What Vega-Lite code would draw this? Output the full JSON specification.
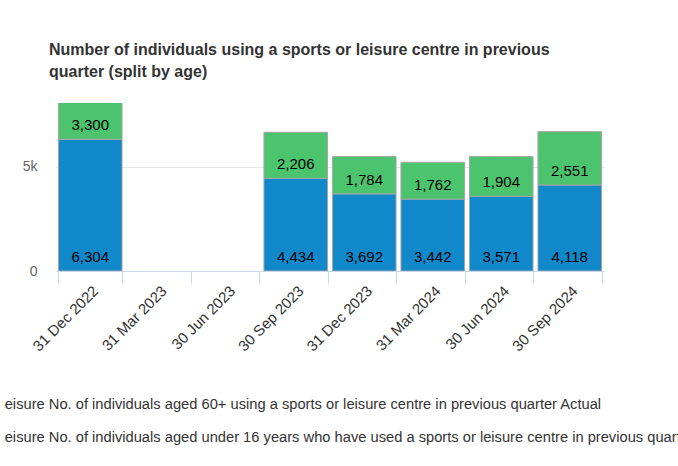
{
  "$schema": "https://vega.github.io/schema/vega-lite/v6.json",
  "width": 548,
  "height": 168,
  "autosize": {"type": "none"},
  "padding": {"left": 56, "top": 103, "right": 74, "bottom": 195},
  "background": "#ffffff",
  "config": {"font": "Liberation Sans", "view": {"stroke": null}},
  "title": {
    "text": ["Number of individuals using a sports or leisure centre in previous", "quarter (split by age)"],
    "anchor": "start",
    "frame": "group",
    "fontSize": 16,
    "fontWeight": "bold",
    "color": "#333333",
    "dx": -7,
    "offset": 23,
    "lineHeight": 22
  },
  "data": {
    "values": [
      {"quarter": "31 Dec 2022", "series": "eisure No. of individuals aged under 16 years who have used a sports or leisure centre in previous quarter Actual", "order": 1, "value": 6304},
      {"quarter": "31 Dec 2022", "series": "eisure No. of individuals aged 60+ using a sports or leisure centre in previous quarter Actual", "order": 2, "value": 3300},
      {"quarter": "30 Sep 2023", "series": "eisure No. of individuals aged under 16 years who have used a sports or leisure centre in previous quarter Actual", "order": 1, "value": 4434},
      {"quarter": "30 Sep 2023", "series": "eisure No. of individuals aged 60+ using a sports or leisure centre in previous quarter Actual", "order": 2, "value": 2206},
      {"quarter": "31 Dec 2023", "series": "eisure No. of individuals aged under 16 years who have used a sports or leisure centre in previous quarter Actual", "order": 1, "value": 3692},
      {"quarter": "31 Dec 2023", "series": "eisure No. of individuals aged 60+ using a sports or leisure centre in previous quarter Actual", "order": 2, "value": 1784},
      {"quarter": "31 Mar 2024", "series": "eisure No. of individuals aged under 16 years who have used a sports or leisure centre in previous quarter Actual", "order": 1, "value": 3442},
      {"quarter": "31 Mar 2024", "series": "eisure No. of individuals aged 60+ using a sports or leisure centre in previous quarter Actual", "order": 2, "value": 1762},
      {"quarter": "30 Jun 2024", "series": "eisure No. of individuals aged under 16 years who have used a sports or leisure centre in previous quarter Actual", "order": 1, "value": 3571},
      {"quarter": "30 Jun 2024", "series": "eisure No. of individuals aged 60+ using a sports or leisure centre in previous quarter Actual", "order": 2, "value": 1904},
      {"quarter": "30 Sep 2024", "series": "eisure No. of individuals aged under 16 years who have used a sports or leisure centre in previous quarter Actual", "order": 1, "value": 4118},
      {"quarter": "30 Sep 2024", "series": "eisure No. of individuals aged 60+ using a sports or leisure centre in previous quarter Actual", "order": 2, "value": 2551}
    ]
  },
  "transform": [
    {"stack": "value", "groupby": ["quarter"], "sort": [{"field": "order", "order": "ascending"}], "as": ["v0", "v1"]}
  ],
  "encoding": {
    "x": {
      "field": "quarter",
      "type": "nominal",
      "sort": null,
      "scale": {
        "domain": ["31 Dec 2022", "31 Mar 2023", "30 Jun 2023", "30 Sep 2023", "31 Dec 2023", "31 Mar 2024", "30 Jun 2024", "30 Sep 2024"],
        "paddingInner": 0.072,
        "paddingOuter": 0.036
      },
      "axis": {
        "title": null,
        "labelAngle": -45,
        "labelFontSize": 15,
        "labelColor": "#333333",
        "tickBand": "extent",
        "tickSize": 12,
        "tickColor": "#ccd6eb",
        "domainColor": "#ccd6eb",
        "labelPadding": 0,
        "labelDx": -3.6,
        "labelDy": -5,
        "grid": false
      }
    }
  },
  "layer": [
    {
      "mark": {"type": "bar", "clip": true, "stroke": "#a6a6a6", "strokeWidth": 1},
      "encoding": {
        "y": {
          "field": "v0",
          "type": "quantitative",
          "scale": {"domain": [0, 8040], "nice": false, "zero": true},
          "axis": {
            "title": null,
            "values": [0, 5000],
            "labelExpr": "datum.value == 0 ? '0' : (datum.value / 1000) + 'k'",
            "domain": false,
            "ticks": false,
            "labelPadding": 19,
            "labelFontSize": 14,
            "labelColor": "#666666",
            "grid": true,
            "gridColor": "#e6e6e6"
          }
        },
        "y2": {"field": "v1"},
        "color": {
          "field": "series",
          "type": "nominal",
          "scale": {
            "domain": ["eisure No. of individuals aged 60+ using a sports or leisure centre in previous quarter Actual", "eisure No. of individuals aged under 16 years who have used a sports or leisure centre in previous quarter Actual"],
            "range": ["#4CC46D", "#1188CA"]
          },
          "legend": {
            "title": null,
            "orient": "none",
            "legendX": -66,
            "legendY": 295,
            "direction": "vertical",
            "symbolSize": 0,
            "symbolOpacity": 0,
            "symbolStrokeWidth": 0,
            "labelOffset": 0,
            "labelFontSize": 14.7,
            "labelColor": "#333333",
            "labelLimit": 0,
            "rowPadding": 17
          }
        }
      }
    },
    {
      "mark": {"type": "text", "dy": -14, "fontSize": 15, "color": "#000000"},
      "encoding": {
        "y": {"field": "v0", "type": "quantitative"},
        "text": {"field": "value", "type": "quantitative", "format": ","}
      }
    }
  ]
}
